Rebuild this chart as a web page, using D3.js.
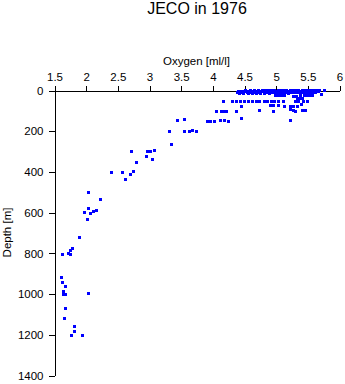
<!DOCTYPE html>
<html><head><meta charset="utf-8">
<script src="https://cdn.jsdelivr.net/npm/d3@7"></script>
<style>
body{margin:0;background:#fff}
svg text{font-family:"Liberation Sans",Arial,Helvetica,sans-serif;fill:#000}
</style>
</head><body>
<svg id="chart" width="345" height="384"></svg>
<script>
const titleText = "JECO in 1976";
const xLabel = "Oxygen [ml/l]";
const yLabel = "Depth [m]";
const xTicks = [1.5, 2, 2.5, 3, 3.5, 4, 4.5, 5, 5.5, 6];
const yTicks = [0, 200, 400, 600, 800, 1000, 1200, 1400];

// Oxygen [ml/l] of each sample
const oxygen = [
  4.52,4.60,4.66,4.72,4.78,4.83,4.88,4.93,4.98,5.03,5.08,5.12,5.17,5.22,5.27,5.32,5.36,5.41,5.46,5.51,5.56,5.60,5.64,5.68,5.76,
  4.40,4.45,4.50,4.55,4.61,4.67,4.73,4.79,4.85,4.91,4.96,5.01,5.06,5.11,5.16,5.21,5.26,5.31,5.35,5.40,5.45,5.50,5.55,5.59,5.63,5.67,
  4.39,4.44,4.49,4.54,4.59,4.64,4.70,4.76,4.81,4.87,4.92,4.97,5.02,5.07,5.13,5.18,5.24,5.29,5.34,5.38,5.43,5.48,5.53,5.58,5.62,
  4.42,4.48,4.57,4.63,4.69,4.75,4.82,4.89,5.00,5.10,5.20,5.44,5.57,
  4.99,5.04,5.09,5.13,5.28,5.32,5.39,5.44,5.49,5.53,5.58,5.72,
  5.33,5.37,5.41,
  4.17,4.31,4.38,4.44,4.50,4.56,4.62,4.69,4.74,4.82,4.86,4.92,4.98,5.04,5.12,5.30,5.36,5.43,5.49,
  4.45,4.91,4.96,5.04,5.13,5.22,5.28,5.34,5.40,
  4.06,4.14,4.18,4.21,4.37,4.74,4.96,5.22,5.27,5.30,5.41,5.46,
  3.44,3.56,3.91,3.96,4.03,4.12,4.18,4.25,4.45,5.22,
  3.31,3.56,3.63,3.68,3.74,
  3.35,2.97,3.02,3.08,2.72,2.96,3.04,2.79,2.40,2.58,2.74,2.70,2.62,
  2.04,2.23,1.97,2.04,2.07,2.12,2.16,2.02,1.89,
  1.63,1.72,1.75,1.79,1.75,1.61,1.63,1.67,1.64,1.64,1.67,2.04,1.67,1.66,1.82,1.82,1.77,1.94
];
// Depth [m] of each sample (same order)
const depth = [
  0,0,0,0,0,0,0,0,0,0,0,0,0,0,0,0,0,0,0,0,0,0,0,0,0,
  5,5,5,5,5,5,5,5,5,5,5,5,5,5,5,5,5,5,5,5,5,5,5,5,5,5,
  10,10,10,10,10,10,10,10,10,10,10,10,10,10,10,10,10,10,10,10,10,10,10,10,10,
  15,15,15,15,15,15,15,15,15,15,15,15,15,
  26,26,26,26,29,29,27,27,27,27,27,21,
  41,41,41,
  52,52,52,52,52,52,52,52,52,52,52,52,52,52,52,52,52,52,52,
  77,75,75,75,79,77,77,77,70,
  102,103,103,103,103,100,103,95,98,103,100,100,
  146,144,152,152,152,149,149,154,139,147,
  203,203,203,198,203,
  267,300,301,296,301,325,340,355,402,404,399,414,438,
  502,535,600,581,605,595,590,635,723,
  806,801,788,777,804,919,942,963,988,1002,1002,999,1071,1120,1160,1184,1204,1204
];

const svg = d3.select("#chart");
const mLeft = 54, mRight = 339, mTop = 90, mBottom = 375;

const x = d3.scaleLinear().domain([1.5, 6]).range([mLeft, mRight]);
const y = d3.scaleLinear().domain([0, 1400]).range([mTop, mBottom]);

// title
svg.append("text")
  .attr("x", 197).attr("y", 14)
  .attr("text-anchor", "middle")
  .style("font-size", "16px")
  .text(titleText);

// x axis (top)
const xAxis = svg.append("g")
  .attr("transform", `translate(0.5,${mTop + 0.5})`)
  .call(d3.axisTop(x).tickValues(xTicks).tickSize(5).tickSizeOuter(0).tickPadding(5)
        .tickFormat(d => String(d)));
xAxis.selectAll("text").style("font-size", "11.5px");

// y axis (left)
const yAxis = svg.append("g")
  .attr("transform", `translate(${mLeft + 0.5},0.5)`)
  .call(d3.axisLeft(y).tickValues(yTicks).tickSize(6).tickSizeOuter(0).tickPadding(5)
        .tickFormat(d => String(d)));
yAxis.selectAll("text").style("font-size", "11.5px");

svg.selectAll(".domain, .tick line").attr("stroke", "#000").attr("shape-rendering", "crispEdges");

// axis titles
svg.append("text")
  .attr("x", (mLeft + mRight) / 2).attr("y", 65)
  .attr("text-anchor", "middle")
  .style("font-size", "11.5px")
  .text(xLabel);

svg.append("text")
  .attr("transform", `translate(11,${(mTop + mBottom) / 2}) rotate(-90)`)
  .attr("text-anchor", "middle")
  .style("font-size", "11.5px")
  .text(yLabel);

// points
const pts = oxygen.map((o, i) => ({o, d: depth[i]}));
svg.append("g").selectAll("rect").data(pts).join("rect")
  .attr("x", p => Math.round(x(p.o)) - 1)
  .attr("y", p => Math.round(y(p.d)) - 1)
  .attr("width", 3).attr("height", 3)
  .attr("fill", "#0000ff")
  .attr("shape-rendering", "crispEdges");
</script>
</body></html>
